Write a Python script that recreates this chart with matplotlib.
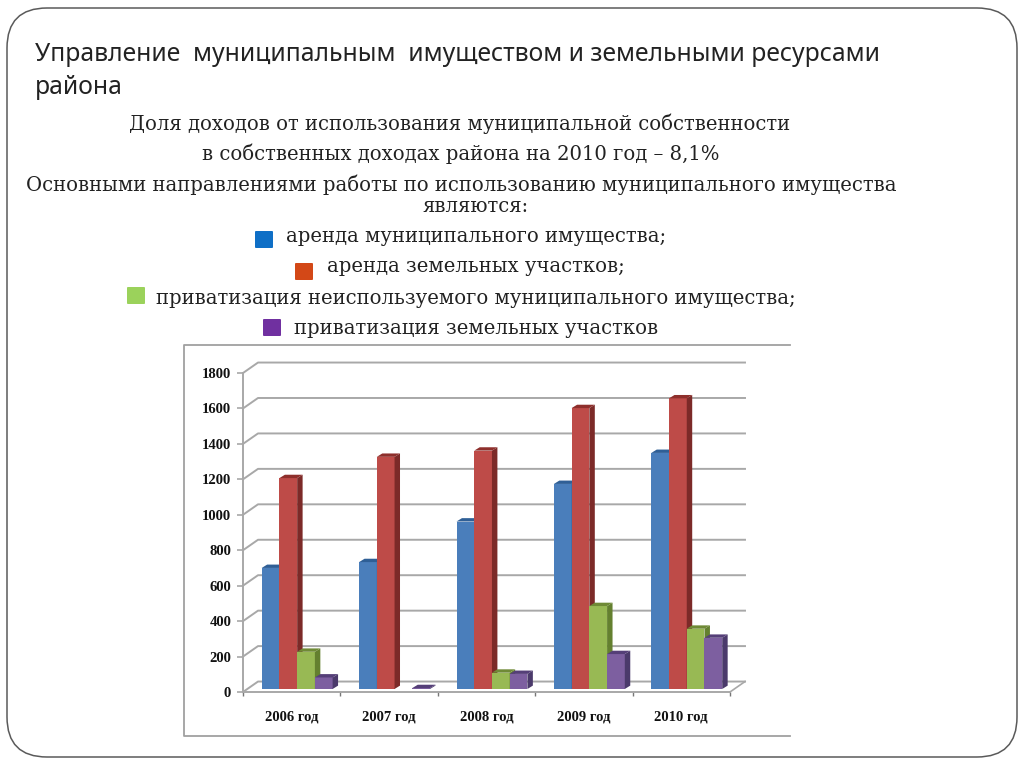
import matplotlib
matplotlib.use('Agg')
import matplotlib.pyplot as plt
from matplotlib.patches import FancyBboxPatch, Polygon

# данные диаграммы
years = ['2006 год', '2007 год', '2008 год', '2009 год', '2010 год']
rent_property = [683, 716, 945, 1157, 1332]
rent_land = [1190, 1310, 1345, 1585, 1640]
priv_property = [210, 0, 92, 468, 340]
priv_land = [65, 5, 85, 197, 289]
y_ticks = [0, 200, 400, 600, 800, 1000, 1200, 1400, 1600, 1800]

series = [rent_property, rent_land, priv_property, priv_land]
front_colors = ['#4a7ebb', '#be4b48', '#98b954', '#7d5fa0']
top_colors = ['#2f5f96', '#8e2f2c', '#6f8a36', '#553f78']
side_colors = ['#2f5f96', '#7c2a28', '#64802f', '#4b3a6b']

title = 'Управление  муниципальным  имуществом и земельными ресурсами\nрайона'
# текст: строка, центр по x, центр по y
body_lines = [
    ('Доля доходов от использования муниципальной собственности', 460, 124),
    ('в собственных доходах района на 2010 год – 8,1%', 461, 154),
    ('Основными направлениями работы по использованию муниципального имущества', 461, 185),
    ('являются:', 475, 206),
    ('аренда муниципального имущества;', 476, 237),
    ('аренда земельных участков;', 476, 267),
    ('приватизация неиспользуемого муниципального имущества;', 476, 298),
    ('приватизация земельных участков', 476, 328),
]
# значки легенды: левый край, верх, цвет
bullets = [(255, 231, '#0f6fc6'), (295, 263, '#d34817'), (127, 287, '#9bd25b'), (263, 319, '#7030a0')]

W, H = 1024, 768
fig = plt.figure(figsize=(W / 100, H / 100), dpi=100, facecolor='white')

# фон слайда в пикселях
bg = fig.add_axes([0, 0, 1, 1])
bg.set_xlim(0, W)
bg.set_ylim(H, 0)
bg.axis('off')
bg.add_patch(FancyBboxPatch((7, 8), 1010, 749, boxstyle='round,pad=0,rounding_size=40',
                            fc='white', ec='#5a5a5a', lw=1.1))
bg.text(35, 71, title, fontsize=17.8, family='Noto Sans', color='#222222',
        va='center', linespacing=1.45)
for line, cx, cy in body_lines:
    bg.text(cx, cy, line, fontsize=14.1, family='DejaVu Serif', color='#222222',
            ha='center', va='center')
for x, y, color in bullets:
    bg.add_patch(FancyBboxPatch((x + 1, y + 1), 16, 15, boxstyle='round,pad=1', fc=color, ec='none'))
# рамка диаграммы без правой стороны
bg.plot([790, 184, 184, 790], [345, 345, 736, 736], color='#a0a0a0', lw=1.3)

# диаграмма
ax = fig.add_axes([243 / W, (H - 692) / H, (730 - 243) / W, (692 - 373) / H])
ax.patch.set_alpha(0)
ax.set_xlim(0, 5)
ax.set_ylim(0, 1800)

wall_dx, wall_dy = 0.154, 59
grid_color = '#a8a8a8'
for v in y_ticks:
    ax.plot([0, wall_dx, 5 + wall_dx], [v, v + wall_dy, v + wall_dy],
            color=grid_color, lw=1.4, clip_on=False, zorder=1)
ax.plot([5, 5 + wall_dx], [0, wall_dy], color=grid_color, lw=1.2, clip_on=False, zorder=1)

bar_w = 0.182
group_start = 0.192
base = 17
depth_dx, depth_dy = 0.056, 19
for j, values in enumerate(series):
    for i, v in enumerate(values):
        if v == 0:
            continue
        left = i + group_start + j * bar_w
        right = left + bar_w
        top = base + v
        z = 3 + i * 10 + j
        ax.bar(left, v, bar_w, bottom=base, align='edge', color=front_colors[j], zorder=z)
        ax.add_patch(Polygon([(right, base), (right + depth_dx, base + depth_dy),
                              (right + depth_dx, top + depth_dy), (right, top)],
                             fc=side_colors[j], ec='none', zorder=z))
        ax.add_patch(Polygon([(left, top), (left + depth_dx, top + depth_dy),
                              (right + depth_dx, top + depth_dy), (right, top)],
                             fc=top_colors[j], ec='none', zorder=z))

for side in ['top', 'right']:
    ax.spines[side].set_visible(False)
for side in ['left', 'bottom']:
    ax.spines[side].set_color(grid_color)
    ax.spines[side].set_linewidth(1.4)

ax.set_yticks(y_ticks)
ax.set_yticklabels([str(v) for v in y_ticks], fontsize=10.5, fontweight='bold',
                   family='Liberation Serif', color='#111111')
ax.tick_params(axis='y', length=4.5, width=1.2, color=grid_color, pad=4)
ax.set_xticks(range(6))
ax.set_xticklabels([])
ax.tick_params(axis='x', length=3, width=1, color='#777777')
ax.set_xticks([i + 0.5 for i in range(5)], minor=True)
ax.set_xticklabels(years, minor=True, fontsize=10.5, fontweight='bold',
                   family='Liberation Serif', color='#111111')
ax.tick_params(axis='x', which='minor', length=0, pad=13)

plt.savefig('out.png', dpi=100)
